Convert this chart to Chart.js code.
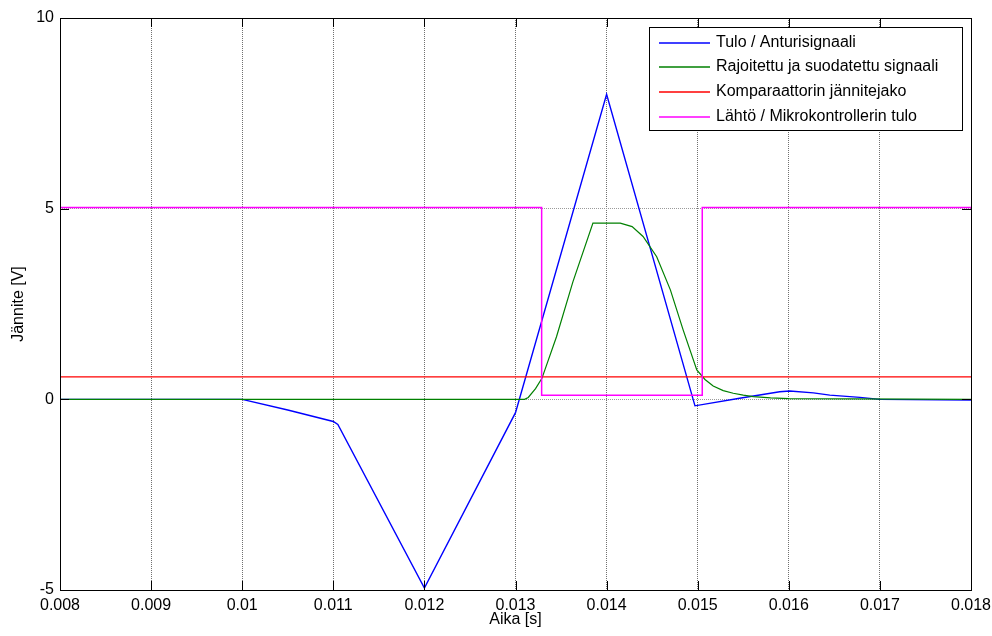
<!DOCTYPE html>
<html>
<head>
<meta charset="utf-8">
<script src="https://cdn.jsdelivr.net/npm/chart.js@4.4.1/dist/chart.umd.min.js"></script>
<style>
  html, body { margin: 0; padding: 0; background: #fff; }
</style>
</head>
<body>
<canvas id="kuvaaja" width="992" height="636"></canvas>
<script>
// Tulo / Anturisignaali
const tuloT = [0.008, 0.010, 0.0105, 0.011, 0.01105, 0.012, 0.013, 0.014, 0.01497, 0.01546, 0.0159, 0.01601, 0.01627, 0.01645, 0.01678, 0.0170, 0.018];
const tuloV = [0, 0, -0.28, -0.58, -0.66, -4.95, -0.35, 8.0, -0.17, 0.03, 0.2, 0.22, 0.17, 0.11, 0.05, 0.0, -0.02];

// Rajoitettu ja suodatettu signaali
const suodT = [0.008, 0.0131, 0.01314, 0.01322, 0.01329, 0.01345, 0.01363, 0.01385, 0.01415, 0.01428, 0.0144, 0.01455, 0.0147, 0.01484, 0.01499, 0.01508, 0.01517, 0.01528, 0.01539, 0.0155, 0.01561, 0.0158, 0.016, 0.018];
const suodV = [0, 0, 0.05, 0.28, 0.55, 1.64, 3.08, 4.62, 4.62, 4.53, 4.27, 3.74, 2.87, 1.82, 0.77, 0.52, 0.35, 0.23, 0.16, 0.11, 0.07, 0.04, 0.02, 0];

// Komparaattorin jännitejako
const jakoT = [0.008, 0.018];
const jakoV = [0.59, 0.59];

// Lähtö / Mikrokontrollerin tulo
const lahtoT = [0.008, 0.013287, 0.013287, 0.01505, 0.01505, 0.018];
const lahtoV = [5.03, 5.03, 0.11, 0.11, 5.03, 5.03];

const sarjaNimet = ['Tulo / Anturisignaali', 'Rajoitettu ja suodatettu signaali', 'Komparaattorin jännitejako', 'Lähtö / Mikrokontrollerin tulo'];
const sarjaVarit = ['#0000ff', '#008000', '#ff0000', '#ff00ff'];
const sarjaLeveys = [1.4, 1.2, 1.4, 1.5];

const xMin = 0.008, xMax = 0.018, xStep = 0.001;
const yMin = -5, yMax = 10, yStep = 5;

const fontFam = "'Liberation Sans', Arial, sans-serif";

function pisteet(t, v) {
  return t.map((x, i) => ({ x: x, y: v[i] }));
}

// MATLAB-tyylinen laatikko, sisäänpäin osoittavat tikit ja selite
const matlabAxes = {
  id: 'matlabAxes',
  afterDatasetsDraw(chart) {
    const ctx = chart.ctx;
    const a = chart.chartArea;
    const sx = chart.scales.x, sy = chart.scales.y;
    const tl = 9;
    ctx.save();
    ctx.strokeStyle = '#000';
    ctx.lineWidth = 1;
    ctx.beginPath();
    sx.ticks.forEach(t => {
      const px = Math.round(sx.getPixelForValue(t.value)) + 0.5;
      ctx.moveTo(px, a.bottom); ctx.lineTo(px, a.bottom - tl);
      ctx.moveTo(px, a.top); ctx.lineTo(px, a.top + tl);
    });
    sy.ticks.forEach(t => {
      const py = Math.round(sy.getPixelForValue(t.value)) + 0.5;
      ctx.moveTo(a.left, py); ctx.lineTo(a.left + tl, py);
      ctx.moveTo(a.right, py); ctx.lineTo(a.right - tl, py);
    });
    ctx.stroke();
    ctx.strokeRect(Math.round(a.left) + 0.5, Math.round(a.top) + 0.5,
      Math.round(a.right - a.left), Math.round(a.bottom - a.top));

    // selite
    const lx = 649.5, ly = 27.5, lw = 313, lh = 103;
    ctx.fillStyle = '#fff';
    ctx.fillRect(lx, ly, lw, lh);
    ctx.strokeStyle = '#000';
    ctx.strokeRect(lx, ly, lw, lh);
    ctx.font = '16px ' + fontFam;
    ctx.textBaseline = 'middle';
    ctx.textAlign = 'left';
    for (let i = 0; i < sarjaNimet.length; i++) {
      const yy = Math.round(ly + 15 + i * 24.7);
      ctx.strokeStyle = sarjaVarit[i];
      ctx.lineWidth = 1.3;
      ctx.beginPath();
      ctx.moveTo(659, yy);
      ctx.lineTo(710, yy);
      ctx.stroke();
      ctx.fillStyle = '#000';
      ctx.fillText(sarjaNimet[i], 716, yy);
    }
    ctx.restore();
  }
};

const config = {
  type: 'line',
  data: {
    datasets: [
      { label: sarjaNimet[0], data: pisteet(tuloT, tuloV), borderColor: sarjaVarit[0], borderWidth: sarjaLeveys[0], order: 4 },
      { label: sarjaNimet[1], data: pisteet(suodT, suodV), borderColor: sarjaVarit[1], borderWidth: sarjaLeveys[1], order: 3 },
      { label: sarjaNimet[2], data: pisteet(jakoT, jakoV), borderColor: sarjaVarit[2], borderWidth: sarjaLeveys[2], order: 2 },
      { label: sarjaNimet[3], data: pisteet(lahtoT, lahtoV), borderColor: sarjaVarit[3], borderWidth: sarjaLeveys[3], order: 1 }
    ]
  },
  options: {
    responsive: false,
    animation: false,
    layout: { padding: { top: 18, right: 21, bottom: 0, left: 0 } },
    elements: {
      point: { radius: 0 },
      line: { tension: 0, fill: false }
    },
    plugins: {
      legend: { display: false },
      tooltip: { enabled: false }
    },
    scales: {
      x: {
        type: 'linear',
        min: xMin,
        max: xMax,
        afterFit(axis) {
          axis.height = 46;
          axis.paddingLeft = 0;
          axis.paddingRight = 0;
        },
        ticks: {
          stepSize: xStep,
          color: '#000',
          padding: 6,
          font: { family: fontFam, size: 16 },
          maxRotation: 0,
          callback: v => String(Number(v.toFixed(3)))
        },
        grid: { color: '#707070', drawTicks: false, lineWidth: 1 },
        border: { display: false, dash: [1, 1] },
        title: {
          display: true,
          text: 'Aika [s]',
          color: '#000',
          font: { family: fontFam, size: 16 },
          padding: { top: 0, bottom: 7 }
        }
      },
      y: {
        type: 'linear',
        min: yMin,
        max: yMax,
        afterFit(axis) {
          axis.width = 60;
          axis.paddingTop = 0;
          axis.paddingBottom = 0;
        },
        ticks: {
          stepSize: yStep,
          color: '#000',
          padding: 6,
          font: { family: fontFam, size: 16 }
        },
        grid: { color: '#9a9a9a', drawTicks: false, lineWidth: 1 },
        border: { display: false, dash: [1, 1] },
        title: {
          display: true,
          text: 'Jännite [V]',
          color: '#000',
          font: { family: fontFam, size: 16 },
          padding: { top: 9, bottom: 0 }
        }
      }
    }
  },
  plugins: [matlabAxes]
};

const kuvaaja = new Chart(document.getElementById('kuvaaja'), config);
</script>
</body>
</html>
